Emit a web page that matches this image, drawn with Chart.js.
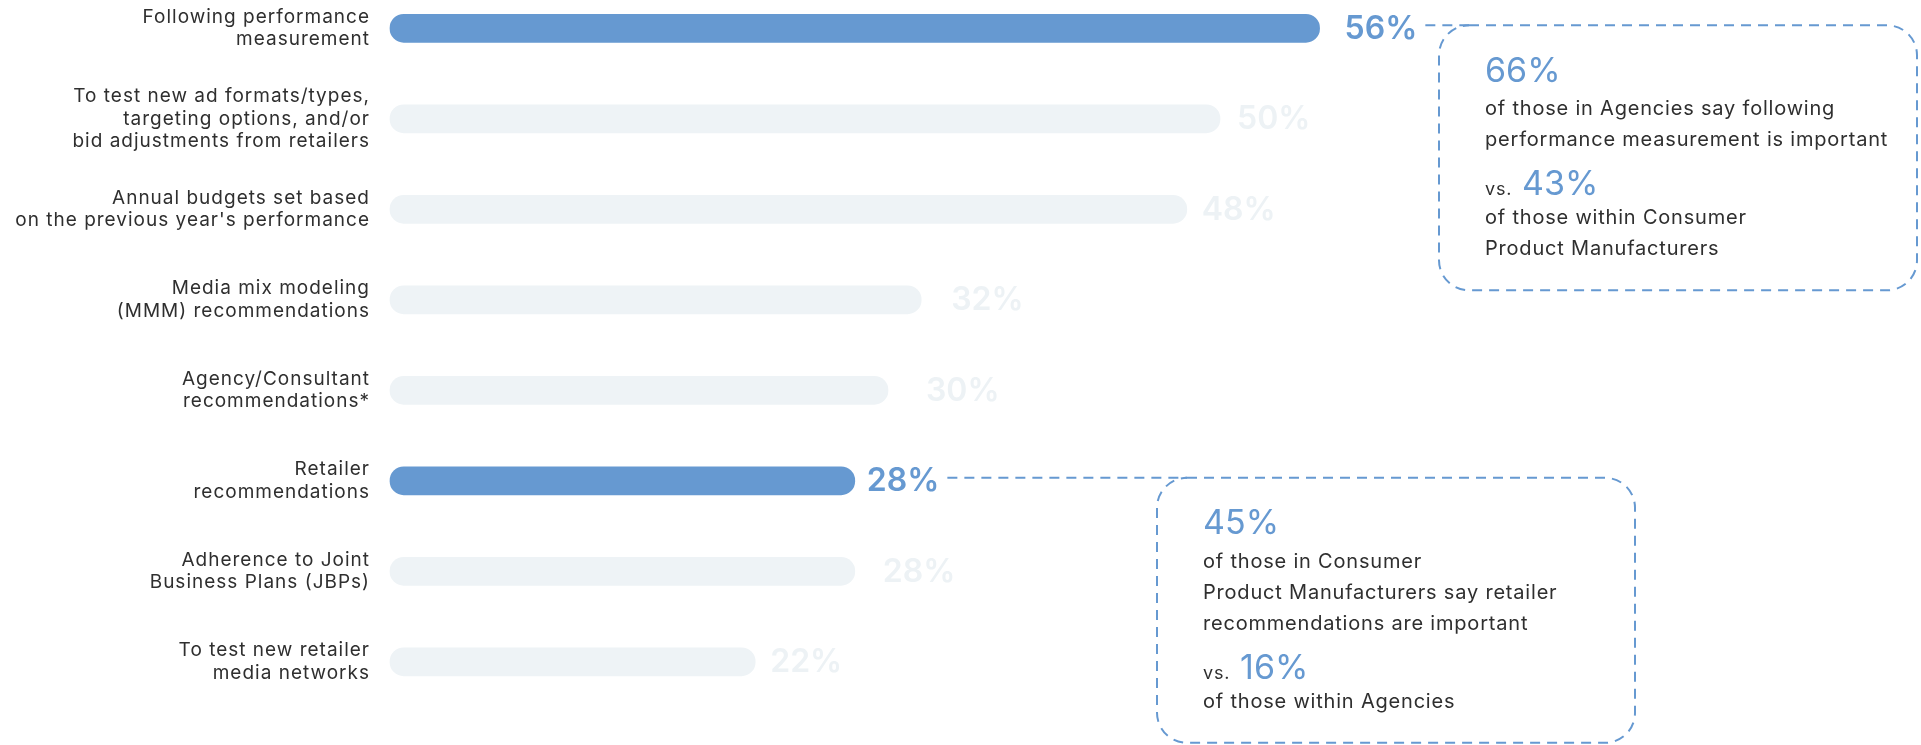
<!DOCTYPE html>
<html>
<head>
<meta charset="utf-8">
<script src="https://cdn.jsdelivr.net/npm/chart.js@4/dist/chart.umd.min.js"></script>
<style>
  html, body { margin: 0; padding: 0; background: #ffffff; overflow: hidden; }
  #wrap { position: relative; width: 1921px; height: 745px; }
</style>
</head>
<body>
<div id="wrap"><canvas id="chart"></canvas></div>
<script>
// ---- data ----
const categories = [
  ['Following performance', 'measurement'],
  ['To test new ad formats/types,', 'targeting options, and/or', 'bid adjustments from retailers'],
  ['Annual budgets set based', "on the previous year's performance"],
  ['Media mix modeling', '(MMM) recommendations'],
  ['Agency/Consultant', 'recommendations*'],
  ['Retailer', 'recommendations'],
  ['Adherence to Joint', 'Business Plans (JBPs)'],
  ['To test new retailer', 'media networks']
];
const shares = [56, 50, 48, 32, 30, 28, 28, 22];
const highlighted = [true, false, false, false, false, true, false, false];

// callout texts, attached to a bar by index
const calloutBars = [0, 5];
const calloutHeadline = ['66%', '45%'];
const calloutLead = [
  ['of those in Agencies say following', 'performance measurement is important'],
  ['of those in Consumer', 'Product Manufacturers say retailer', 'recommendations are important']
];
const calloutVersus = ['43%', '16%'];
const calloutTail = [
  ['of those within Consumer', 'Product Manufacturers'],
  ['of those within Agencies']
];

// ---- style ----
const FONT = 'Inter, "Open Sans", sans-serif';
const BLUE = '#6699d1';
const PALE_BAR = '#eef3f6';
const PALE_TEXT = '#edf2f5';
const INK = '#2f2f2f';
const LABEL_GAP = [25, 17, 15, 30, 38, 12, 28, 15];   // space between bar end and its value label
const BOX_LEFT = [1439, 1157];
const BOX_W = 478;
const BOX_H = 265;

// wider tracking for the axis labels
const tracking = {
  id: 'tracking',
  beforeDraw(chart) { chart.ctx.letterSpacing = '1px'; },
  afterDraw(chart) { chart.ctx.letterSpacing = '0px'; }
};

const valueLabels = {
  id: 'valueLabels',
  afterDatasetsDraw(chart) {
    const ctx = chart.ctx;
    const meta = chart.getDatasetMeta(0);
    ctx.save();
    ctx.letterSpacing = '0px';
    ctx.font = '600 32px ' + FONT;
    ctx.textAlign = 'left';
    ctx.textBaseline = 'middle';
    meta.data.forEach((bar, i) => {
      ctx.fillStyle = highlighted[i] ? BLUE : PALE_TEXT;
      ctx.fillText(shares[i] + '%', bar.x + LABEL_GAP[i], bar.y + 1);
    });
    ctx.restore();
  }
};

function roundRectPath(ctx, x, y, w, h, r) {
  ctx.beginPath();
  ctx.moveTo(x + r, y);
  ctx.lineTo(x + w - r, y);
  ctx.arcTo(x + w, y, x + w, y + r, r);
  ctx.lineTo(x + w, y + h - r);
  ctx.arcTo(x + w, y + h, x + w - r, y + h, r);
  ctx.lineTo(x + r, y + h);
  ctx.arcTo(x, y + h, x, y + h - r, r);
  ctx.lineTo(x, y + r);
  ctx.arcTo(x, y, x + r, y, r);
}

const callouts = {
  id: 'callouts',
  afterDraw(chart) {
    const ctx = chart.ctx;
    const meta = chart.getDatasetMeta(0);
    calloutBars.forEach((barIndex, k) => {
      const bar = meta.data[barIndex];
      ctx.save();
      ctx.letterSpacing = '0px';
      ctx.font = '600 32px ' + FONT;
      const labelEnd = bar.x + LABEL_GAP[barIndex] + ctx.measureText(shares[barIndex] + '%').width;
      const top = bar.y - 3;
      const left = BOX_LEFT[k];
      const radius = 30;

      ctx.strokeStyle = BLUE;
      ctx.lineWidth = 2;
      ctx.setLineDash([10, 7]);
      // leader from the value label to the box
      ctx.beginPath();
      ctx.moveTo(labelEnd + 8, top);
      ctx.lineTo(left + radius, top);
      ctx.stroke();
      roundRectPath(ctx, left, top, BOX_W, BOX_H, radius);
      ctx.stroke();
      ctx.setLineDash([]);

      const tx = left + 46;
      const body = '400 20px ' + FONT;
      ctx.textAlign = 'left';
      ctx.textBaseline = 'middle';
      ctx.fillStyle = BLUE;
      ctx.font = '400 34px ' + FONT;
      ctx.fillText(calloutHeadline[k], tx, top + 46);

      ctx.font = body;
      ctx.letterSpacing = '0.8px';
      ctx.fillStyle = INK;
      let y = top + 84;
      calloutLead[k].forEach((line, j) => {
        ctx.fillText(line, tx, y);
        if (j < calloutLead[k].length - 1) y += 31;
      });
      y += 43;
      // "vs." sits on the baseline of the comparison figure
      ctx.textBaseline = 'alphabetic';
      const numBase = y + 12;
      ctx.font = '400 18px ' + FONT;
      ctx.fillStyle = INK;
      ctx.fillText('vs.', tx, numBase);
      const vsW = ctx.measureText('vs. ').width;
      ctx.letterSpacing = '0px';
      ctx.font = '400 34px ' + FONT;
      ctx.fillStyle = BLUE;
      ctx.fillText(calloutVersus[k], tx + vsW + 4, numBase);

      ctx.textBaseline = 'middle';
      ctx.font = body;
      ctx.letterSpacing = '0.8px';
      ctx.fillStyle = INK;
      y += 35;
      calloutTail[k].forEach((line) => {
        ctx.fillText(line, tx, y);
        y += 31;
      });
      ctx.restore();
    });
  }
};

new Chart(document.getElementById('chart'), {
  type: 'bar',
  data: {
    labels: categories,
    datasets: [{
      data: shares,
      backgroundColor: highlighted.map(h => h ? BLUE : PALE_BAR),
      borderWidth: 0,
      borderRadius: 14,
      borderSkipped: false,
      barThickness: 28,
      clip: false
    }]
  },
  options: {
    indexAxis: 'y',
    responsive: true,
    maintainAspectRatio: false,
    animation: false,
    layout: { padding: { left: 0, top: 28.3, right: 535, bottom: 83.2 } },
    plugins: { legend: { display: false }, tooltip: { enabled: false } },
    scales: {
      x: { display: false, min: 0, max: 60 },
      y: {
        offset: false,
        grid: { display: false, drawTicks: false },
        border: { display: false },
        ticks: {
          autoSkip: false,
          padding: 20,
          color: INK,
          font: { family: FONT, size: 19, lineHeight: 1.18 }
        },
        afterFit(scale) {
          scale.width = 390;
          scale.paddingTop = 0;
          scale.paddingBottom = 0;
        }
      }
    }
  },
  plugins: [tracking, valueLabels, callouts]
});
</script>
</body>
</html>
